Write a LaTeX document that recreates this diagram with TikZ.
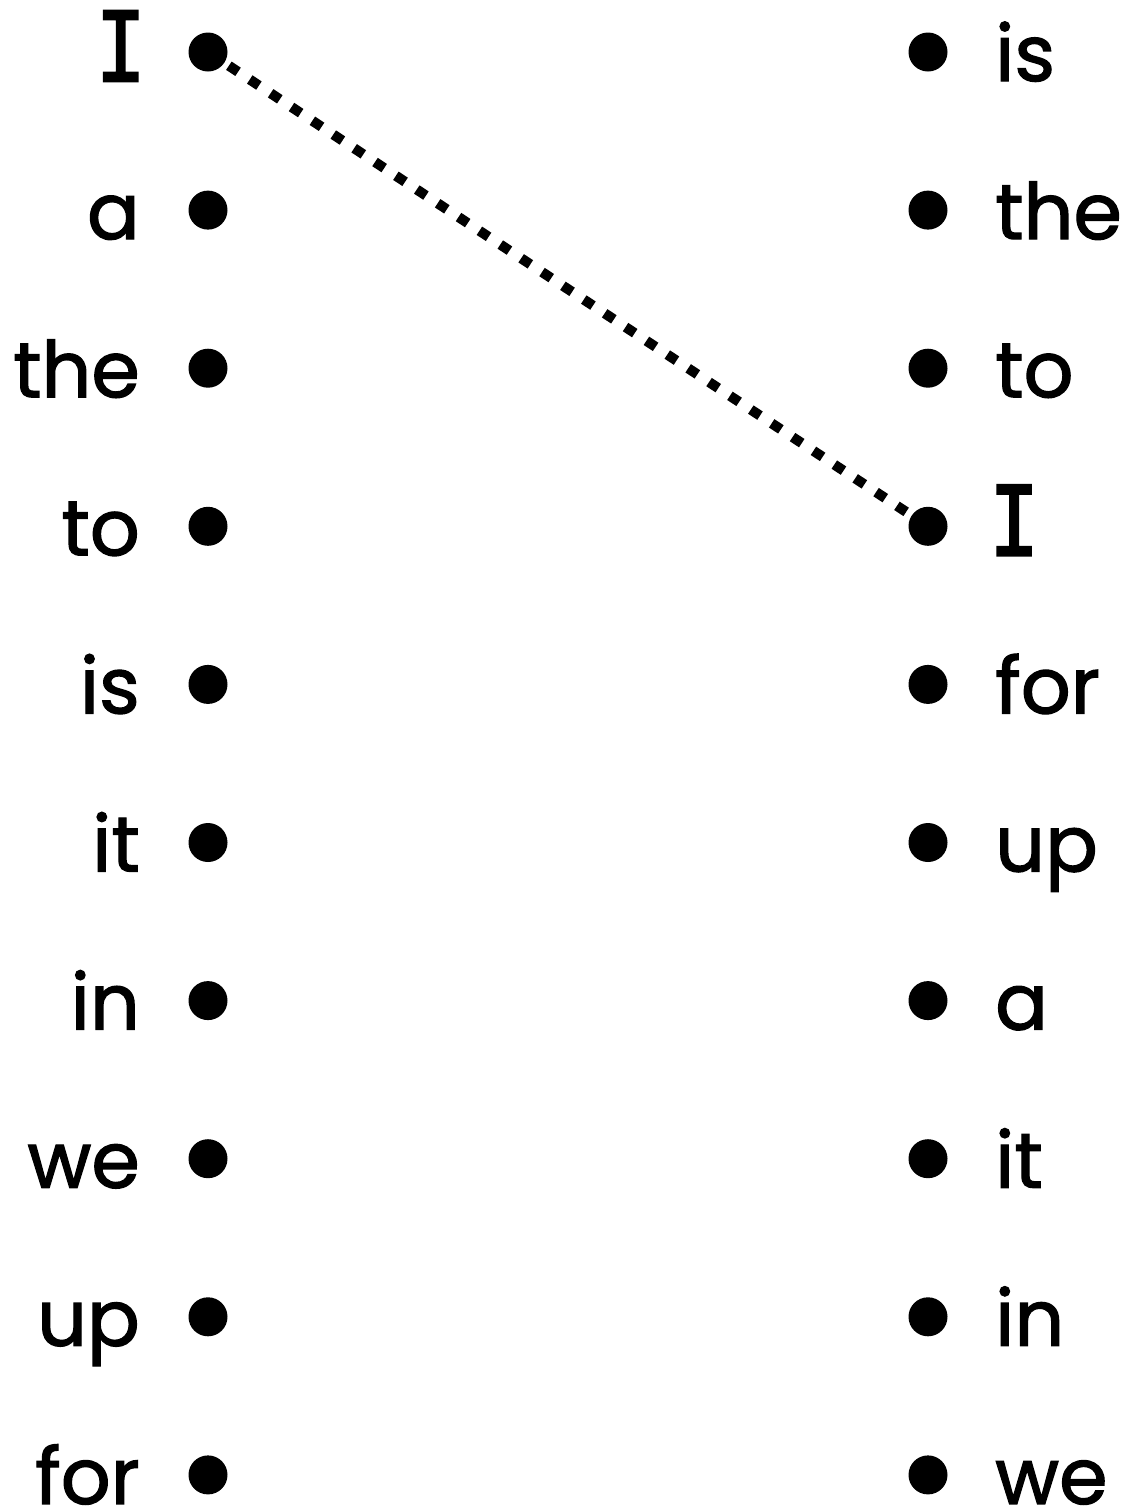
\documentclass[tikz,border=0pt]{standalone}
\usepackage{fontspec}
\usepackage{graphicx}
\setmainfont{Poppins}[FakeBold=1.6]
\newfontfamily\slabI{Liberation Mono}[FakeBold=2.6]
\newcommand{\capI}{\kern-6pt\resizebox{50pt}{70pt}{\slabI I}\kern-6pt}
\usetikzlibrary{backgrounds}
\begin{document}
\begin{tikzpicture}[x=1pt,y=-1pt,
  dotnode/.style={circle,fill=black,minimum size=39pt,inner sep=0pt},
  leftword/.style={anchor=base east,inner sep=0pt,font=\fontsize{78}{80}\selectfont},
  rightword/.style={anchor=base west,inner sep=0pt,font=\fontsize{78}{80}\selectfont},
  matchline/.style={line width=10pt,dash pattern=on 11pt off 14pt}]
\useasboundingbox (0,0) rectangle (1135,1508);
\foreach \w [count=\i] in {\capI,a,the,to,is,it,in,we,up,for} {
  \pgfmathsetmacro{\yy}{52+158.1*(\i-1)}
  \node[dotnode] (l\i) at (208,\yy) {};
  \node[leftword] (lw\i) at (140,\yy+29) {\w};
}
\foreach \w [count=\i] in {is,the,to,\capI,for,up,a,it,in,we} {
  \pgfmathsetmacro{\yy}{52+158.1*(\i-1)}
  \node[dotnode] (r\i) at (928,\yy) {};
  \node[rightword] (rw\i) at (995,\yy+29) {\w};
}
\begin{scope}[on background layer]
\draw[matchline] (l1.center) -- (r4.center);
\end{scope}
\end{tikzpicture}
\end{document}
